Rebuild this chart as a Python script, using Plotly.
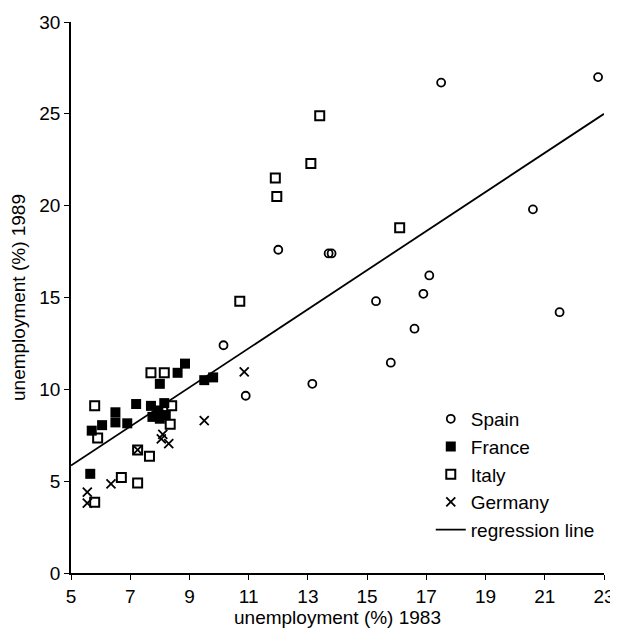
import plotly.graph_objects as go

# Spain (open circles)
spain_x = [17.5, 22.8, 20.6, 17.1, 16.9, 16.6, 21.5, 12.0, 13.7, 13.8, 15.3, 10.15, 15.8, 10.9, 13.15]
spain_y = [26.7, 27.0, 19.8, 16.2, 15.2, 13.3, 14.2, 17.6, 17.4, 17.4, 14.8, 12.4, 11.45, 9.65, 10.3]

# France (filled squares)
france_x = [8.85, 8.6, 9.5, 9.8, 8.0, 5.7, 6.05, 6.5, 6.5, 6.9, 7.2, 7.7, 7.75, 8.0, 8.15, 7.95, 8.2, 5.65]
france_y = [11.4, 10.9, 10.5, 10.65, 10.3, 7.75, 8.05, 8.75, 8.2, 8.15, 9.2, 9.1, 8.5, 8.4, 9.25, 8.85, 8.6, 5.4]

# Italy (open squares)
italy_x = [13.4, 13.1, 11.9, 11.95, 16.1, 10.7, 7.7, 8.15, 5.8, 8.4, 8.35, 5.9, 7.25, 7.65, 6.7, 7.25, 5.8]
italy_y = [24.9, 22.3, 21.5, 20.5, 18.8, 14.8, 10.9, 10.9, 9.1, 9.1, 8.1, 7.35, 6.7, 6.35, 5.2, 4.9, 3.85]

# Germany (crosses)
germany_x = [10.85, 9.5, 8.1, 8.05, 8.3, 7.25, 6.35, 5.55, 5.55]
germany_y = [10.95, 8.3, 7.55, 7.3, 7.05, 6.7, 4.85, 4.4, 3.8]

# Regression line end points
reg_x = [5, 23]
reg_y = [5.85, 25.0]

x_ticks = [5, 7, 9, 11, 13, 15, 17, 19, 21, 23]
y_ticks = [0, 5, 10, 15, 20, 25, 30]

FONT = "Liberation Sans, Arial, Helvetica, sans-serif"

fig = go.Figure()
fig.add_trace(go.Scatter(x=spain_x, y=spain_y, mode="markers", name="Spain",
                         marker=dict(symbol="circle-open", size=8, color="black",
                                     line=dict(width=1.8, color="black"))))
fig.add_trace(go.Scatter(x=france_x, y=france_y, mode="markers", name="France",
                         marker=dict(symbol="square", size=10, color="black",
                                     line=dict(width=0))))
fig.add_trace(go.Scatter(x=italy_x, y=italy_y, mode="markers", name="Italy",
                         marker=dict(symbol="square-open", size=9, color="black",
                                     line=dict(width=2, color="black"))))
fig.add_trace(go.Scatter(x=germany_x, y=germany_y, mode="markers", name="Germany",
                         marker=dict(symbol="x-thin-open", size=9, color="black",
                                     line=dict(width=1.8, color="black"))))
fig.add_trace(go.Scatter(x=reg_x, y=reg_y, mode="lines", name="regression line",
                         line=dict(color="black", width=1.8)))

# page body has an 8px margin, so the figure is 8px smaller and shifted
fig.update_layout(
    width=610, height=628,
    margin=dict(l=63, r=14, t=14, b=63),
    paper_bgcolor="white", plot_bgcolor="white",
    font=dict(family=FONT, size=19, color="black"),
    showlegend=True,
    legend=dict(x=0.675, y=0.314, xanchor="left", yanchor="top",
                bgcolor="rgba(0,0,0,0)", font=dict(size=19)),
    xaxis=dict(range=[5, 23], tickvals=x_ticks, ticktext=[str(v) for v in x_ticks],
               showline=True, linecolor="black", linewidth=1.5,
               ticks="outside", ticklen=5, tickcolor="black", tickwidth=1,
               showgrid=False, zeroline=False, automargin=False,
               title=dict(text="unemployment (%) 1983", font=dict(size=19), standoff=0)),
    yaxis=dict(range=[0, 30], tickvals=y_ticks, ticktext=[str(v) for v in y_ticks],
               showline=True, linecolor="black", linewidth=1.5,
               ticks="outside", ticklen=5, tickcolor="black", tickwidth=1,
               showgrid=False, zeroline=False, automargin=False,
               title=dict(text="unemployment (%) 1989", font=dict(size=19), standoff=11)),
)

fig.write_html("out.html")
